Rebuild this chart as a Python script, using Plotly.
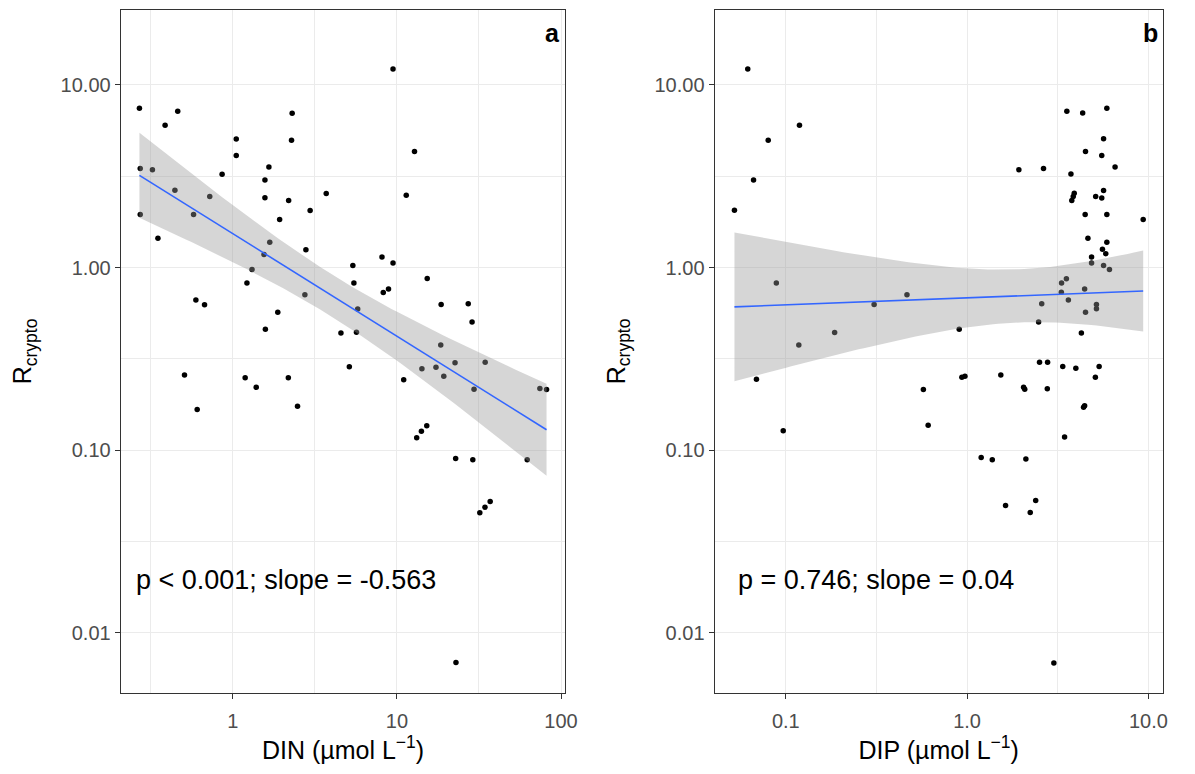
import numpy as np
import plotly.graph_objects as go

# panel a: DIN vs R_crypto
din_x = [0.270, 0.462, 0.387, 2.30, 9.47, 1.05, 2.28, 1.05, 12.8, 0.273,
         0.324, 1.66, 0.861, 1.57, 0.444, 0.724, 1.57, 2.19, 3.71, 11.4,
         0.273, 0.577, 2.96, 1.93, 0.350, 1.68, 1.55, 2.79, 1.31, 1.22,
         5.39, 8.11, 9.47, 5.47, 15.3, 8.26, 8.89, 0.596, 0.673, 2.75,
         5.77, 1.88, 18.6, 27.2, 28.7, 1.58, 4.56, 5.67, 18.5, 0.508,
         0.607, 1.19, 1.39, 2.18, 2.48, 5.13, 11.0, 14.2, 17.3, 19.3,
         22.6, 34.5, 29.5, 13.2, 14.1, 15.2, 22.8, 29.0, 32.0, 34.4,
         37.0, 22.9, 74.3, 81.6, 62.2]
din_r = [7.43, 7.16, 6.0, 6.98, 12.2, 5.05, 4.97, 4.10, 4.31, 3.48,
         3.43, 3.55, 3.24, 3.01, 2.65, 2.45, 2.41, 2.33, 2.54, 2.49,
         1.95, 1.95, 2.05, 1.83, 1.445, 1.375, 1.18, 1.25, 0.975, 0.824,
         1.026, 1.14, 1.06, 0.822, 0.871, 0.731, 0.762, 0.664, 0.625, 0.710,
         0.593, 0.570, 0.628, 0.634, 0.503, 0.459, 0.438, 0.442, 0.377, 0.258,
         0.167, 0.249, 0.221, 0.249, 0.174, 0.286, 0.243, 0.279, 0.285, 0.254,
         0.301, 0.303, 0.216, 0.117, 0.127, 0.136, 0.090, 0.0886, 0.0455, 0.0487,
         0.0525, 0.0069, 0.218, 0.215, 0.0886]

# panel b: DIP vs R_crypto
dip_x = [0.0617, 0.119, 0.080, 0.0664, 0.0521, 3.55, 4.34, 4.50, 1.93, 2.64,
         3.74, 3.90, 3.85, 3.78, 4.48, 4.64, 4.86, 4.86, 0.0887, 0.466,
         0.307, 0.186, 0.118, 0.905, 3.32, 3.53, 3.31, 2.58, 3.62, 4.45,
         4.50, 2.48, 4.27, 5.12, 5.90, 5.66, 5.53, 6.55, 5.53, 5.66,
         5.90, 9.36, 5.90, 5.58, 5.82, 5.66, 6.10, 5.17, 5.17, 0.0689,
         0.0968, 0.574, 0.61, 0.936, 0.973, 1.535, 2.05, 2.08, 2.51, 2.78,
         2.77, 3.37, 3.98, 5.35, 5.10, 4.39, 4.45, 3.45, 1.196, 1.377,
         2.11, 1.63, 2.39, 2.23, 3.01]
dip_r = [12.2, 6.0, 4.97, 3.01, 2.06, 7.16, 7.0, 4.31, 3.43, 3.48,
         3.25, 2.55, 2.45, 2.33, 1.95, 1.445, 1.14, 1.06, 0.824, 0.71,
         0.628, 0.441, 0.377, 0.459, 0.824, 0.867, 0.733, 0.634, 0.664, 0.762,
         0.570, 0.503, 0.438, 2.45, 7.43, 5.06, 4.10, 3.55, 2.40, 2.64,
         1.95, 1.83, 1.375, 1.26, 1.19, 1.025, 0.975, 0.627, 0.594, 0.245,
         0.128, 0.215, 0.137, 0.251, 0.254, 0.258, 0.221, 0.216, 0.303, 0.303,
         0.217, 0.287, 0.281, 0.287, 0.251, 0.172, 0.175, 0.118, 0.0912, 0.0887,
         0.0897, 0.0499, 0.0531, 0.0457, 0.00686]

labels = ["p < 0.001; slope = -0.563", "p = 0.746; slope = 0.04"]
y_ticks = [0.01, 0.1, 1, 10]
y_ticktext = ["0.01", "0.10", "1.00", "10.00"]

T95 = 1.993  # t quantile, df ~ 73


def lm_band(x, y, n=80):
    # lm on log10-log10 like geom_smooth(method="lm") with log scales
    lx, ly = np.log10(x), np.log10(y)
    b1, b0 = np.polyfit(lx, ly, 1)
    res = ly - (b0 + b1 * lx)
    s = np.sqrt(np.sum(res ** 2) / (len(lx) - 2))
    sxx = np.sum((lx - lx.mean()) ** 2)
    gx = np.linspace(lx.min(), lx.max(), n)
    fit = b0 + b1 * gx
    se = s * np.sqrt(1 / len(lx) + (gx - lx.mean()) ** 2 / sxx)
    return 10 ** gx, 10 ** fit, 10 ** (fit - T95 * se), 10 ** (fit + T95 * se)


fig = go.Figure()
panels = [(din_x, din_r, "x", "y"), (dip_x, dip_r, "x2", "y2")]
for px_, py_, xa, ya in panels:
    px_, py_ = np.array(px_), np.array(py_)
    fig.add_trace(go.Scatter(x=px_, y=py_, mode="markers", xaxis=xa, yaxis=ya,
                             marker=dict(color="black", size=5.5), showlegend=False))
    gx, fit, lo, hi = lm_band(px_, py_)
    fig.add_trace(go.Scatter(x=np.concatenate([gx, gx[::-1]]), y=np.concatenate([hi, lo[::-1]]),
                             fill="toself", fillcolor="rgba(153,153,153,0.4)", line=dict(width=0),
                             mode="lines", xaxis=xa, yaxis=ya, showlegend=False, hoverinfo="skip"))
    fig.add_trace(go.Scatter(x=gx, y=fit, mode="lines", xaxis=xa, yaxis=ya,
                             line=dict(color="#3366FF", width=1.6), showlegend=False))

FONT = "Liberation Sans, Arial, sans-serif"
axis_common = dict(type="log", showline=True, mirror=True, linecolor="#333333", linewidth=1,
                   ticks="outside", ticklen=5, tickcolor="#333333", tickwidth=1,
                   showgrid=True, gridcolor="#ebebeb", gridwidth=1.2, zeroline=False,
                   tickfont=dict(family=FONT, size=20, color="#4d4d4d"),
                   title_font=dict(family=FONT, size=25, color="black"))
minor_y = dict(tickvals=[10 ** -1.5, 10 ** -0.5, 10 ** 0.5], showgrid=True,
               gridcolor="#ebebeb", gridwidth=0.8, ticks="")

fig.update_layout(
    width=1195, height=774, margin=dict(l=0, r=0, t=0, b=0),
    paper_bgcolor="white", plot_bgcolor="white",
    xaxis=dict(axis_common, domain=[0.102, 0.478], range=[-0.683, 2.027], anchor="y",
               tickvals=[1, 10, 100], ticktext=["1", "10", "100"], ticklabelstandoff=5,
               minor=dict(tickvals=[10 ** -0.5, 10 ** 0.5, 10 ** 1.5], showgrid=True,
                          gridcolor="#ebebeb", gridwidth=0.8, ticks=""),
               title=dict(text="DIN (µmol L<sup>−1</sup>)", standoff=10)),
    xaxis2=dict(axis_common, domain=[0.604, 0.983], range=[-1.393, 1.080], anchor="y2",
                tickvals=[0.1, 1, 10], ticktext=["0.1", "1.0", "10.0"], ticklabelstandoff=5,
                minor=dict(tickvals=[10 ** -0.5, 10 ** 0.5], showgrid=True,
                           gridcolor="#ebebeb", gridwidth=0.8, ticks=""),
                title=dict(text="DIP (µmol L<sup>−1</sup>)", standoff=10)),
    yaxis=dict(axis_common, domain=[0.105, 0.987], range=[-2.327, 1.409], anchor="x",
               tickvals=y_ticks, ticktext=y_ticktext, minor=minor_y,
               title=dict(text="R<sub>crypto</sub>", standoff=21)),
    yaxis2=dict(axis_common, domain=[0.105, 0.987], range=[-2.327, 1.409], anchor="x2",
                tickvals=y_ticks, ticktext=y_ticktext, minor=minor_y,
                title=dict(text="R<sub>crypto</sub>", standoff=21)),
)

text_x = [0.03, 0.047]
for i, (xa, ya, tag) in enumerate([("x", "y", "a"), ("x2", "y2", "b")]):
    fig.add_annotation(text=labels[i], xref=xa + " domain", yref=ya, x=text_x[i], y=np.log10(0.0194),
                       xanchor="left", yanchor="middle", showarrow=False,
                       font=dict(family=FONT, size=27, color="black"))
    fig.add_annotation(text="<b>%s</b>" % tag, xref=xa + " domain", yref=ya + " domain",
                       x=0.993, y=0.99, xanchor="right", yanchor="top", showarrow=False,
                       font=dict(family=FONT, size=25, color="black"))

# browsers add an 8px body margin; drop it so the figure sits at 0,0
fig.write_html("out.html", config={"displayModeBar": False},
               post_script="document.body.style.margin='0';")
